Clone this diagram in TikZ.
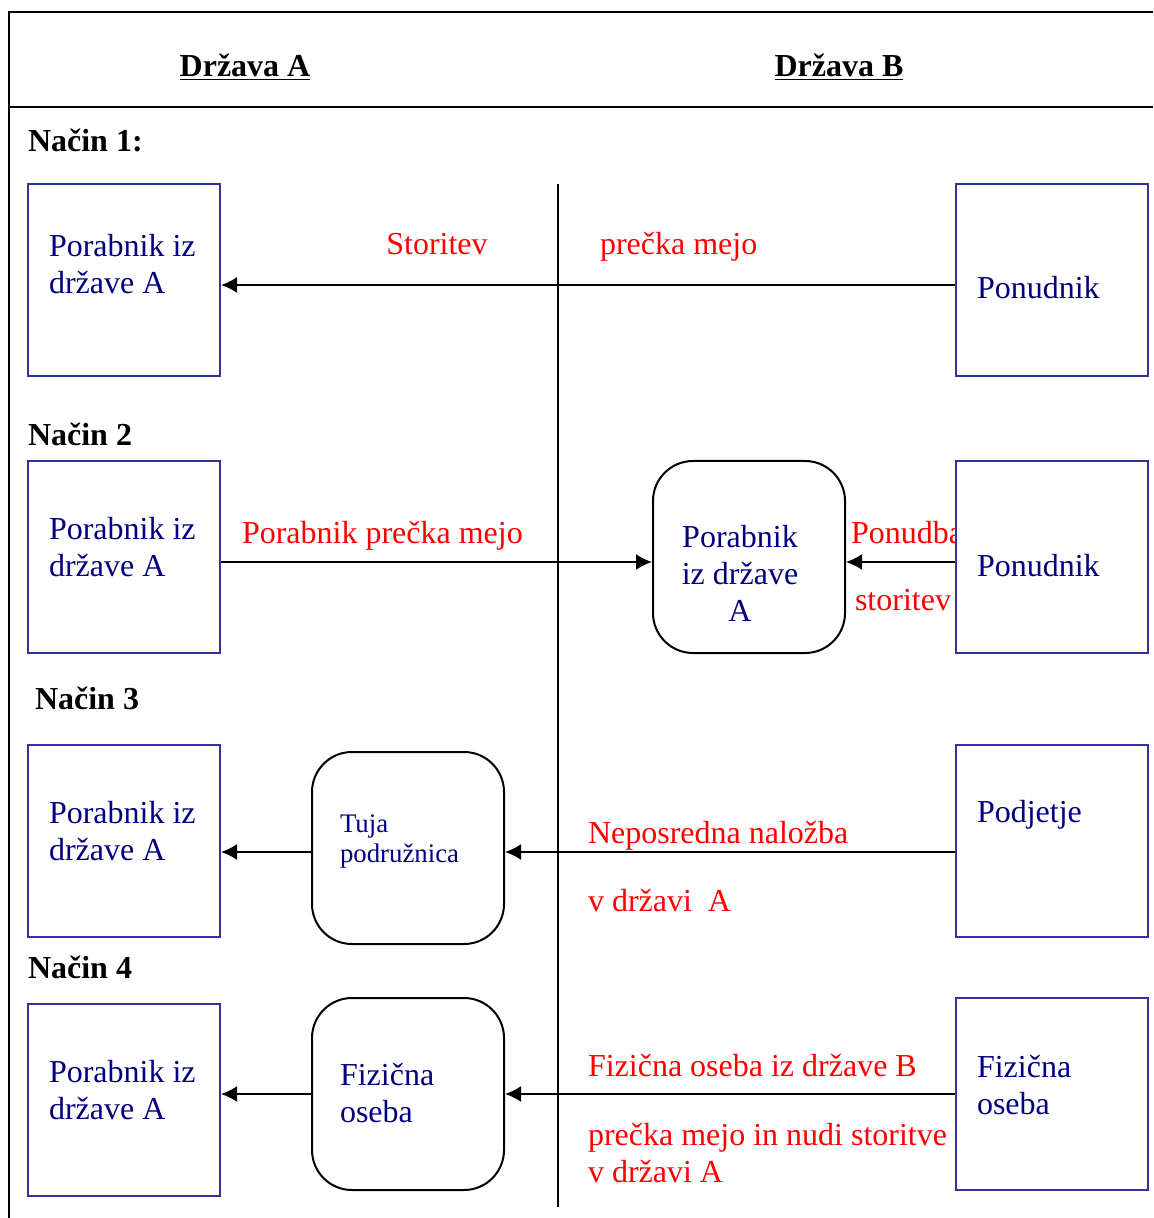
\documentclass[tikz,border=0pt]{standalone}
\usepackage{fontspec}
\setmainfont{Liberation Serif}
\usetikzlibrary{arrows.meta}
\definecolor{boxblue}{RGB}{51,51,153}
\definecolor{textblue}{RGB}{0,0,128}

\begin{document}
\begin{tikzpicture}[x=0.5pt, y=-0.5pt, >={Latex[length=8pt,width=8pt]}, line width=1pt,
  every node/.style={font=\fontsize{16}{18.5}\selectfont},
  party/.style={draw=boxblue, fill=white, minimum width=96pt, minimum height=96pt, inner sep=0pt},
  agent/.style={draw, fill=white, rounded corners=20pt, minimum width=96pt, minimum height=96pt, inner sep=0pt},
  who/.style={text=textblue, align=left, anchor=west, inner sep=0pt},
  flow/.style={text=red, align=left, anchor=west, inner sep=0pt},
  mode/.style={font=\fontsize{16}{18.5}\selectfont\bfseries, anchor=west, inner sep=0pt}];

\useasboundingbox (0,0) rectangle (1153,1218);

\draw (1153,12) -- (9,12) -- (9,1218);
\draw (9,107) -- (1153,107);
\draw (558,184) -- (558,1207);

\node (hdrA) at (245,67) [font=\fontsize{16}{18.5}\selectfont\bfseries] {\underline{Država A}};
\node (hdrB) at (839,67) [font=\fontsize{16}{18.5}\selectfont\bfseries] {\underline{Država B}};

\node (mode1) at (27,140) [mode] {Način 1:};
\node (mode2) at (27,434) [mode] {Način 2};
\node (mode3) at (34,698) [mode] {Način 3};
\node (mode4) at (27,967) [mode] {Način 4};

% red labels on the flows
\node (lab1a) at (437,244) [flow, anchor=center] {Storitev};
\node (lab1b) at (599,247) [flow] {prečka mejo};
\node (lab2a) at (241,536) [flow] {Porabnik prečka mejo};
\node (lab2b) at (850,533) [flow] {Ponudba};
\node (lab2c) at (854,600) [flow] {storitev};
\node (lab3a) at (587,836) [flow] {Neposredna naložba};
\node (lab3b) at (587,901) [flow] {v državi\ \ A};
\node (lab4a) at (587,1066) [flow] {Fizična oseba iz države B};
\node (lab4b) at (587,1153) [flow] {prečka mejo in nudi storitve\\v državi A};

% boxes
\node (a1) at (124,280)  [party] {};
\node (b1) at (1052,280) [party] {};
\node (a2) at (124,557)  [party] {};
\node (c2) at (749,557)  [agent] {};
\node (b2) at (1052,557) [party] {};
\node (a3) at (124,841)  [party] {};
\node (c3) at (408,848)  [agent] {};
\node (b3) at (1052,841) [party] {};
\node (a4) at (124,1100) [party] {};
\node (c4) at (408,1094) [agent] {};
\node (b4) at (1052,1094) [party] {};

\node (a1txt) at (48,264)  [who] {Porabnik iz\\države A};
\node (a2txt) at (48,547)  [who] {Porabnik iz\\države A};
\node (a3txt) at (48,831)  [who] {Porabnik iz\\države A};
\node (a4txt) at (48,1090) [who] {Porabnik iz\\države A};
\node (b1txt) at (976,288)  [who] {Ponudnik};
\node (b2txt) at (976,566)  [who] {Ponudnik};
\node (b3txt) at (976,815)  [who] {Podjetje};
\node (b4txt) at (976,1085) [who] {Fizična\\oseba};
\node (c2txt) at (740,573)  [who, anchor=center, align=center] {Porabnik\\iz države\\A};
\node (c3txt) at (339,841)  [who, font=\fontsize{13.4}{15}\selectfont] {Tuja\\podružnica};
\node (c4txt) at (339,1093) [who] {Fizična\\oseba};

\draw[->] ([yshift=-2.5pt]b1.west) -- ([yshift=-2.5pt]a1.east);
\draw[->] ([yshift=-2.5pt]a2.east) -- ([yshift=-2.5pt]c2.west);
\draw[->] ([yshift=-2.5pt]b2.west) -- ([yshift=-2.5pt]c2.east);
\draw[->] ([yshift=-5.5pt]b3.west) -- ([yshift=-5.5pt]b3.west -| c3.east);
\draw[->] ([yshift=-2pt]c3.west) -- ([yshift=-2pt]c3.west -| a3.east);
\draw[->] (b4.west) -- (c4.east);
\draw[->] (c4.west) -- (c4.west -| a4.east);

\end{tikzpicture}
\end{document}
